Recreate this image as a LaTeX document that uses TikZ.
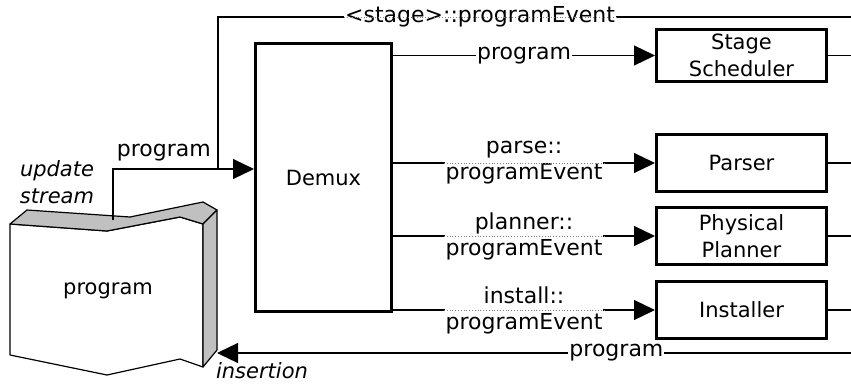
\documentclass[tikz,border=0pt]{standalone}
\usepackage{fontspec}
\setmainfont{DejaVu Sans}
\usetikzlibrary{positioning,arrows.meta}
\definecolor{silver}{RGB}{192,192,192}

\begin{document}
\begin{tikzpicture}[x=1pt, y=-1pt,
	every node/.style={align=center,
					   inner sep=1pt,
					   font=\fontsize{22}{26}\selectfont
					   },
	proc/.style={draw,
				 line width=3pt,
				 minimum width=170pt,
				 minimum height=57pt,
				 font=\fontsize{21}{27}\selectfont
	},
	wire/.style={line width=1.2pt},
	flow/.style={wire, -{Triangle[length=21pt, width=20pt]}},
	lbl/.style={fill=white},
	gap/.style={dotted, line width=0.8pt, gray},
	note/.style={font=\fontsize{21}{27}\selectfont\itshape},
	wall/.style={line width=1.2pt, line join=round}
]
	\useasboundingbox (0,0) rectangle (851,383);

	% the program store
	\draw[wall, fill=white] (10,224) -- (107,231) -- (180,217) -- (203,224) -- (203,367) -- (180,359) -- (107,375) -- (10,355) -- cycle;
	\draw[wall, fill=silver] (10,224) -- (27,210) -- (130,217) -- (203,202) -- (217,210) -- (203,224) -- (180,217) -- (107,231) -- cycle;
	\draw[wall, fill=silver] (203,224) -- (217,210) -- (217,350) -- (203,367) -- cycle;
	\node (prog) [font=\fontsize{21}{27}\selectfont] at (108,291) {program};
	\node (upd) [note] at (57,182) {update\\stream};

	\node (demux) [proc, minimum width=136pt, minimum height=268pt] at (323.5,177.5) {Demux};
	\node (sched) [proc, minimum height=52pt] at (741.5,55.5) {Stage\\Scheduler};
	\node (parser) [proc, below=50pt of sched] {Parser};
	\node (planner) [proc, below=13pt of parser] {Physical\\Planner};
	\node (installer) [proc, below=14pt of planner] {Installer};

	\coordinate (tap) at (113,220);
	\coordinate (join) at (218,169);
	\coordinate (topend) at (851,17);
	\coordinate (rim) at (851,0);
	\coordinate (retend) at (851,353);
	\coordinate (slot) at (217,353);

	\draw[flow] (tap) |- ([yshift=8.5pt]demux.west) node[pos=0.68, above=6pt] (inlbl) {program};
	\draw[wire] (join) |- (topend);
	\node (stagelbl) [lbl] at (480,17) {<stage>::programEvent};
	\draw[gap] (stagelbl.west) -- (stagelbl.east);

	\draw[flow] (demux.east |- sched) -- node[lbl] (schedlbl) {program} (sched);
	\draw[flow] (demux.east |- parser) -- node[lbl] (parselbl) {parse::\\programEvent} (parser);
	\draw[flow] (demux.east |- planner) -- node[lbl] (planlbl) {planner::\\programEvent} (planner);
	\draw[flow] (demux.east |- installer) -- node[lbl] (instlbl) {install::\\programEvent} (installer);
	\foreach \l in {parselbl, planlbl, instlbl}
		\draw[gap] (\l.west) -- (\l.east);

	\foreach \b in {sched, parser, planner, installer}
		\draw[wire] (\b.east) -- (\b.east -| rim);

	\draw[flow] (retend) -- node[lbl, pos=0.37] (retlbl) {program} (slot);
	\node (ins) [note] at (262,371) {insertion};
\end{tikzpicture}
\end{document}
